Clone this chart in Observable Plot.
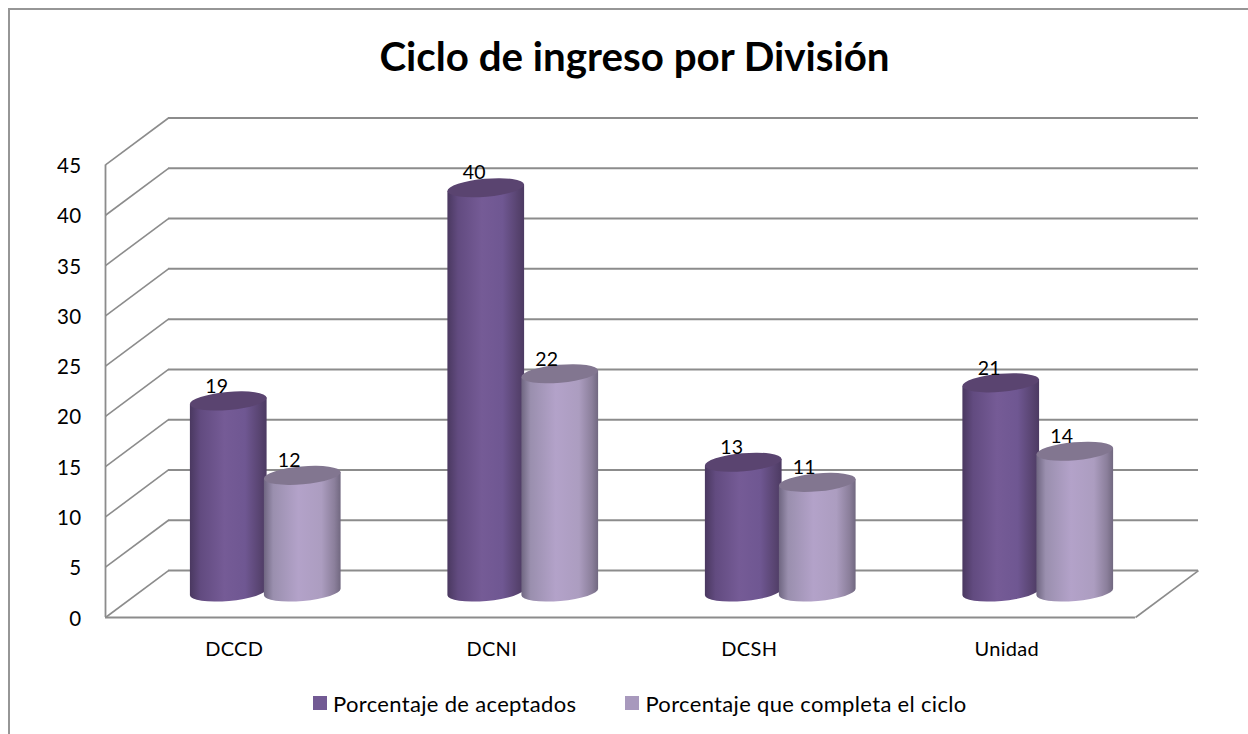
<!DOCTYPE html>
<html lang="es">
<head>
<meta charset="utf-8">
<script src="https://cdn.jsdelivr.net/npm/d3@7"></script>
<script src="https://cdn.jsdelivr.net/npm/@observablehq/plot@0.6"></script>
<style>
  html, body { margin: 0; padding: 0; background: #fff; width: 1248px; height: 734px; overflow: hidden; }
  body { position: relative; font-family: Lato, "Open Sans", sans-serif; color: #000; }
  #frame { position: absolute; left: 8px; top: 8px; width: 1400px; height: 900px; border: 2px solid #969696; box-sizing: border-box; }
  #chart { position: absolute; left: 0; top: 0; }
  #chart text { letter-spacing: 0.3px; }
  #title { position: absolute; left: 8px; width: 1253px; top: 31px; text-align: center; font-size: 40.3px; font-weight: 700; line-height: 50px; }
  #legend { position: absolute; left: 313px; top: 690px; height: 26px; display: flex; align-items: center; font-size: 22px; letter-spacing: 0.33px; white-space: nowrap; }
  #legend .sw { width: 14px; height: 14px; margin-right: 6px; }
  #legend .item { display: flex; align-items: center; margin-right: 49px; }
</style>
</head>
<body>
<div id="frame"></div>
<div id="chart"></div>
<div id="title">Ciclo de ingreso por División</div>
<div id="legend"></div>
<script>
const categories = ["DCCD", "DCNI", "DCSH", "Unidad"];
const aceptados = [19, 40.2, 12.9, 20.8];
const completa = [11.6, 21.7, 10.9, 14];
const yTicks = [0, 5, 10, 15, 20, 25, 30, 35, 40, 45];
const seriesNames = ["Porcentaje de aceptados", "Porcentaje que completa el ciclo"];
const swatchColors = ["#725a94", "#a899bd"];

// The 3D box: depth expressed in the units of the x and y scales
const depthX = 0.2447, depthY = 4.67;
const baseY = 2.485, midX = depthX / 2;
const halfW = 0.1495, shift = 0.1437;
const grey = "#8c8c8c";

function cylinders(values, side, gradient, capColor) {
  const rows = values.map((v, i) => ({i, v, c: i + 0.5 + midX + side * shift}));
  return Plot.rect(rows, {
    x1: d => d.c - halfW,
    x2: d => d.c + halfW,
    y1: () => baseY,
    y2: d => d.v + baseY,
    render(index, scales, ch) {
      const g = d3.create("svg:g").attr("aria-label", "cylinder");
      const rot = -5, a = rot * Math.PI / 180;
      for (const i of index) {
        const cx = (ch.x1[i] + ch.x2[i]) / 2;
        const rx = Math.abs(ch.x2[i] - ch.x1[i]) / 2;
        const ry = 9;
        const ex = rx * Math.cos(a), ey = rx * Math.sin(a);
        const yb = ch.y1[i], yt = ch.y2[i];
        g.append("path")
          .attr("fill", `url(#${gradient})`)
          .attr("d", `M${cx - ex},${yt - ey}L${cx - ex},${yb - ey}A${rx},${ry} ${rot} 0 0 ${cx + ex},${yb + ey}L${cx + ex},${yt + ey}Z`);
        g.append("ellipse")
          .attr("fill", capColor)
          .attr("cx", cx).attr("cy", yt).attr("rx", rx).attr("ry", ry)
          .attr("transform", `rotate(${rot} ${cx} ${yt})`);
      }
      return g.node();
    }
  });
}

function gradients() {
  const defs = d3.create("svg:defs");
  const add = (id, stops) => {
    const g = defs.append("linearGradient").attr("id", id);
    stops.forEach(([o, c]) => g.append("stop").attr("offset", o).attr("stop-color", c));
  };
  add("gradDark", [[0, "#4a3860"], [0.14, "#624b80"], [0.45, "#755b96"], [0.72, "#6f5792"], [0.92, "#57436f"], [1, "#4c3a62"]]);
  add("gradLight", [[0, "#6f6681"], [0.12, "#9a8fae"], [0.45, "#b3a2c9"], [0.75, "#ac9dc0"], [0.92, "#8b7f9b"], [1, "#716880"]]);
  return defs.node();
}

const labels = (values, side, dx) => Plot.text(values, {
  x: (d, i) => i + 0.5 + midX + side * shift,
  y: d => d + baseY,
  text: d => d3.format(".0f")(d),
  dx,
  dy: -15,
  fontSize: 19.5,
  fill: "#000"
});

const plot = Plot.plot({
  width: 1248,
  height: 734,
  marginLeft: 105,
  marginRight: 50,
  marginTop: 117.5,
  marginBottom: 117,
  style: {background: "transparent", fontFamily: "Lato, 'Open Sans', sans-serif", overflow: "visible"},
  x: {domain: [0, 4 + depthX]},
  y: {domain: [0, 45 + depthY]},
  marks: [
    () => gradients(),
    // back wall lines
    Plot.ruleY(yTicks, {y: d => d + depthY, x1: depthX, x2: 4 + depthX, stroke: grey, strokeWidth: 2}),
    // side wall diagonals
    Plot.link(yTicks, {x1: 0, y1: d => d, x2: depthX, y2: d => d + depthY, stroke: grey, strokeWidth: 1.6}),
    // front axis, floor edge
    Plot.ruleX([0], {y1: 0, y2: 45, stroke: grey, strokeWidth: 1.8}),
    Plot.ruleY([0], {x1: 0, x2: 4, stroke: grey, strokeWidth: 2}),
    Plot.link([0], {x1: 4, y1: 0, x2: 4 + depthX, y2: depthY, stroke: grey, strokeWidth: 1.6}),
    cylinders(aceptados, -1, "gradDark", "#5a4470"),
    cylinders(completa, 1, "gradLight", "#827690"),
    labels(aceptados, -1, -12),
    labels(completa, 1, -13.5),
    Plot.axisY(yTicks, {anchor: "left", tickSize: 0, tickPadding: 24, fontSize: 20.5, label: null, dy: 1.5, tickFormat: d => String(d)}),
    Plot.axisX(categories.map((c, i) => i + 0.5), {anchor: "bottom", tickSize: 0, tickPadding: 22, fontSize: 20, label: null, dy: 2, tickFormat: d => categories[Math.floor(d)]})
  ]
});
document.getElementById("chart").append(plot);

const legend = d3.select("#legend");
seriesNames.forEach((n, i) => {
  const it = legend.append("div").attr("class", "item");
  it.append("div").attr("class", "sw").style("background", swatchColors[i]);
  it.append("span").text(n);
});
</script>
</body>
</html>
